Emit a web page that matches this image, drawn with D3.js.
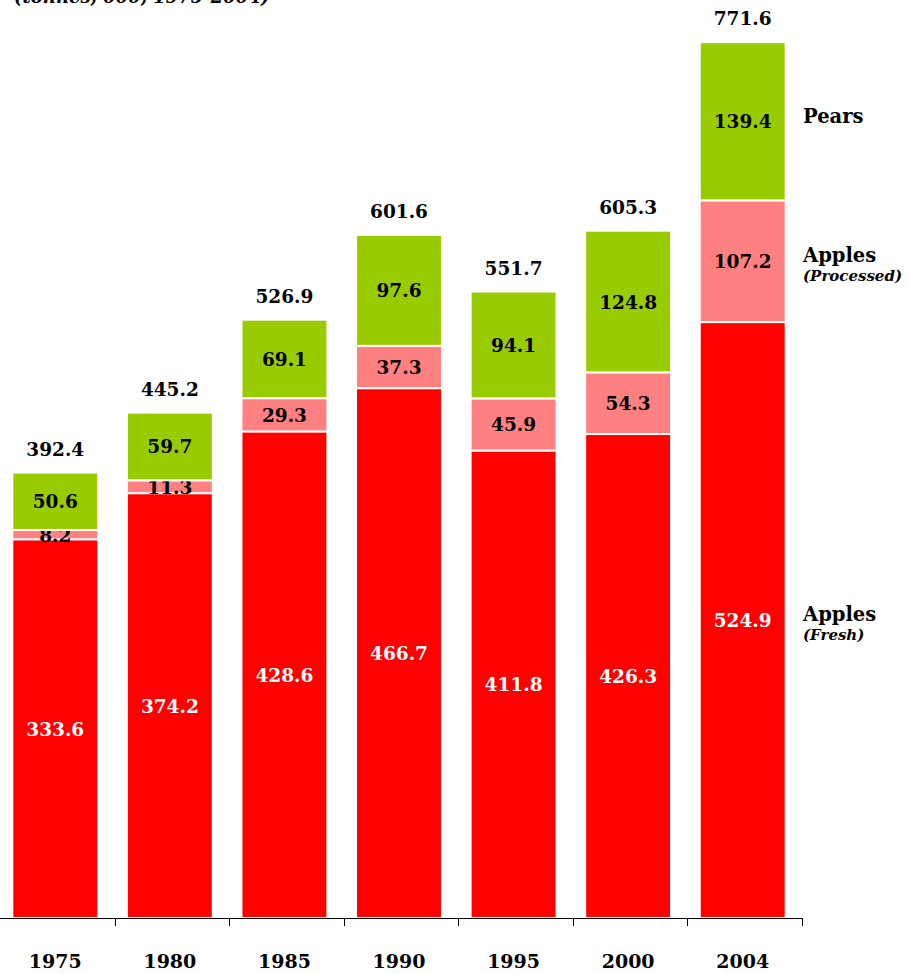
<!DOCTYPE html>
<html><head><meta charset="utf-8">
<script src="https://cdn.jsdelivr.net/npm/d3@7"></script>
<style>body{margin:0;background:#fff}svg{display:block}text{font-family:"DejaVu Serif",serif;font-weight:bold}</style>
</head><body><svg id="c" width="909" height="974"></svg>
<script>
const years = ["1975","1980","1985","1990","1995","2000","2004"];
const applesFresh = [333.6,374.2,428.6,466.7,411.8,426.3,524.9];
const applesProcessed = [8.2,11.3,29.3,37.3,45.9,54.3,107.2];
const pears = [50.6,59.7,69.1,97.6,94.1,124.8,139.4];
const totals = [392.4,445.2,526.9,601.6,551.7,605.3,771.6];
const seriesNames = ["Apples (Fresh)","Apples (Processed)","Pears"];
const colors = ["#FF0000","#FF8080","#99CC00"];

const svg = d3.select("#c");
const x = d3.scaleBand().domain(years).range([-2,800]).paddingInner(0.25).paddingOuter(0.125);
const y = d3.scaleLinear().domain([0,771.6]).range([918,42]);

const rows = years.map((yr,i)=>({year:yr, f:applesFresh[i], p:applesProcessed[i], r:pears[i]}));
const stack = d3.stack().keys(["f","p","r"])(rows);

// title (partly off the top, as in the reference)
svg.append("text").attr("x",14).attr("y",3).attr("font-size",18).attr("font-style","italic")
  .text("(tonnes, 000, 1975-2004)");

stack.forEach((s,si)=>{
  const g = svg.append("g");
  g.selectAll("rect").data(s).join("rect")
    .attr("x",d=>x(d.data.year)).attr("width",x.bandwidth())
    .attr("y",d=>y(d[1])).attr("height",d=>y(d[0])-y(d[1]))
    .attr("fill",colors[si]).attr("stroke","#fff").attr("stroke-width",2);
  g.selectAll("text").data(s).join("text")
    .attr("x",d=>x(d.data.year)+x.bandwidth()/2)
    .attr("y",d=>(y(d[0])+y(d[1]))/2+7)
    .attr("text-anchor","middle").attr("font-size",18.5)
    .attr("fill",si===0?"#fff":"#000")
    .text(d=>d3.format(".1f")(d[1]-d[0]));
});

svg.selectAll("text.tot").data(years).join("text").attr("class","tot")
  .attr("x",d=>x(d)+x.bandwidth()/2)
  .attr("y",(d,i)=>y(totals[i])-17)
  .attr("text-anchor","middle").attr("font-size",18.5)
  .text((d,i)=>d3.format(".1f")(totals[i]));

// x axis
const ax = svg.append("g");
ax.append("line").attr("x1",0).attr("x2",802).attr("y1",918.5).attr("y2",918.5).attr("stroke","#000");
d3.range(1,8).forEach(i=>{
  const tx = Math.round(i*802/7)+0.5;
  ax.append("line").attr("x1",tx).attr("x2",tx).attr("y1",918).attr("y2",926).attr("stroke","#000");
});
ax.selectAll("text").data(years).join("text")
  .attr("x",d=>x(d)+x.bandwidth()/2).attr("y",968)
  .attr("text-anchor","middle").attr("font-size",19).text(d=>d);

// legend labels aligned with last bar
const last = stack.map(s=>s[s.length-1]);
const lx = 803;
const legendSub = ["(Fresh)","(Processed)",null];
last.forEach((d,si)=>{
  const cy = (y(d[0])+y(d[1]))/2;
  const main = si===2 ? "Pears" : "Apples";
  if(legendSub[si]){
    svg.append("text").attr("x",lx).attr("y",cy+1).attr("font-size",19.5).text(main);
    svg.append("text").attr("x",lx).attr("y",cy+20).attr("font-size",15).attr("font-style","italic").text(legendSub[si]);
  } else {
    svg.append("text").attr("x",lx).attr("y",cy+2).attr("font-size",19.5).text(main);
  }
});
</script></body></html>
